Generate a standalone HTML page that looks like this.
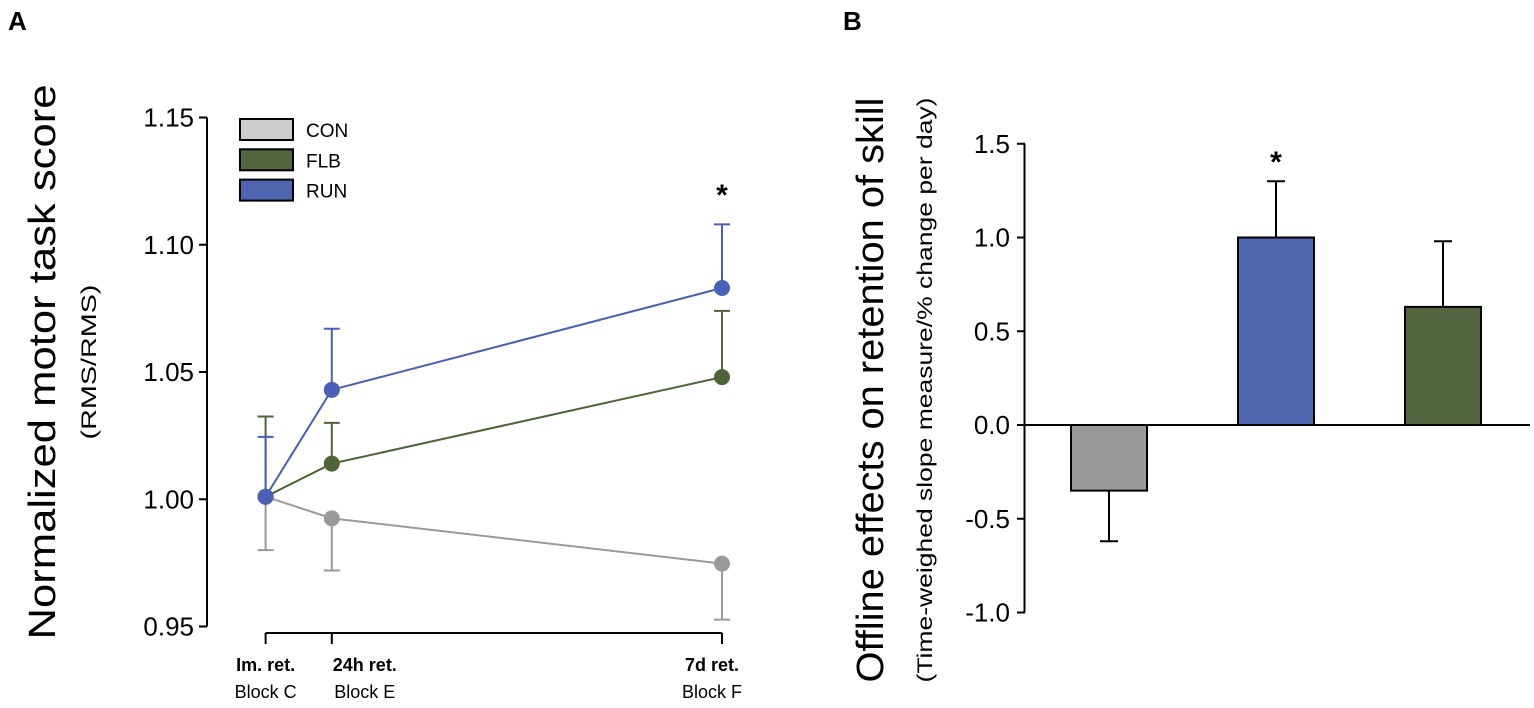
<!DOCTYPE html>
<html><head><meta charset="utf-8"><style>
body{margin:0;background:#fff;}
svg{display:block;font-family:"Liberation Sans",Arial,sans-serif;}
</style></head><body>
<svg id="fig" width="1534" height="708" viewBox="0 0 1534 708">
<text x="8" y="30" font-size="26" font-weight="bold">A</text>
<text x="843" y="30" font-size="26" font-weight="bold">B</text>
<text transform="translate(55,362) rotate(-90)" text-anchor="middle" font-size="38" textLength="555" lengthAdjust="spacingAndGlyphs">Normalized motor task score</text>
<text transform="translate(96,362) rotate(-90)" text-anchor="middle" font-size="21" textLength="155" lengthAdjust="spacingAndGlyphs">(RMS/RMS)</text>
<text transform="translate(883,390) rotate(-90)" text-anchor="middle" font-size="38" textLength="585" lengthAdjust="spacingAndGlyphs">Offline effects on retention of skill</text>
<text transform="translate(932,390) rotate(-90)" text-anchor="middle" font-size="21" textLength="585" lengthAdjust="spacingAndGlyphs">(Time-weighed slope measure/% change per day)</text>
<g id="ga"></g>
<g id="gb"></g>
</svg>
<script>
const aCategories=["Im. ret.","24h ret.","7d ret."];
const aBlocks=["Block C","Block E","Block F"];
const aDays=[0,1,7];
const aTicks=[0.95,1.00,1.05,1.10,1.15];
const aSeriesNames=["CON","FLB","RUN"];
const conValues=[1.001,0.9925,0.9747];
const conErr=[0.021,0.0205,0.022];
const flbValues=[1.001,1.014,1.048];
const flbErr=[0.0315,0.016,0.026];
const runValues=[1.001,1.043,1.083];
const runErr=[0.0235,0.024,0.025];
const bCategories=["CON","RUN","FLB"];
const bValues=[-0.35,1.0,0.63];
const bErr=[0.27,0.30,0.35];
const bTicks=[-1.0,-0.5,0.0,0.5,1.0,1.5];

const NS="http://www.w3.org/2000/svg";
function mk(p,tag,at){const e=document.createElementNS(NS,tag);for(const k in at)e.setAttribute(k,at[k]);p.appendChild(e);return e;}
const ga=document.getElementById('ga'),gb=document.getElementById('gb');
const ay=v=>626.5-(v-0.95)/0.2*509;
const ax=i=>{const d=aDays[i];return d<=1?265.6+d*66.2:331.8+(d-1)/6*390.2;};
const labelShift=[0,33,-10];
let e=mk(ga,'line',{x1:207,y1:ay(0.95),x2:207,y2:ay(1.15),stroke:'#000','stroke-width':2});

aTicks.forEach(t=>{mk(ga,'line',{x1:199,x2:207,y1:ay(t),y2:ay(t),stroke:'#000','stroke-width':2});
 const tx=mk(ga,'text',{x:194,y:ay(t)+9,'text-anchor':'end','font-size':26});tx.textContent=t.toFixed(2);
 });
e=mk(ga,'line',{x1:ax(0),x2:ax(2),y1:633,y2:633,stroke:'#000','stroke-width':2});

aCategories.forEach((c,i)=>{mk(ga,'line',{x1:ax(i),x2:ax(i),y1:633,y2:644,stroke:'#000','stroke-width':2});
 const t1=mk(ga,'text',{x:ax(i)+labelShift[i],y:671,'text-anchor':'middle','font-size':18,'font-weight':'bold'});t1.textContent=c;
 
 const t2=mk(ga,'text',{x:ax(i)+labelShift[i],y:698,'text-anchor':'middle','font-size':18});t2.textContent=aBlocks[i];
 });
const series=[[conValues,conErr,'#9a9a9a',-1,'#cccccc'],[flbValues,flbErr,'#4f6438',1,'#546640'],[runValues,runErr,'#4a5fb5',1,'#5065b0']];
series.forEach((s,k)=>{const [v,er,col,dir]=s;
 const pl=mk(ga,'polyline',{points:v.map((y,i)=>ax(i)+','+ay(y)).join(' '),fill:'none',stroke:col,'stroke-width':2});
 
 v.forEach((y,i)=>{const ye=ay(y+dir*er[i]);
  const eb=mk(ga,'path',{d:`M${ax(i)},${ay(y)}V${ye}M${ax(i)-8},${ye}H${ax(i)+8}`,stroke:col,'stroke-width':2,fill:'none'});
  });});
series.forEach((s,k)=>{s[0].forEach((y,i)=>{const c=mk(ga,'circle',{cx:ax(i),cy:ay(y),r:8,fill:s[2]});
 });});
e=mk(ga,'text',{x:ax(2),y:205,'text-anchor':'middle','font-size':30,'font-weight':'bold'});e.textContent='*';

aSeriesNames.forEach((n,k)=>{const y=119+k*30.3;
 const r=mk(ga,'rect',{x:240,y:y,width:53,height:21,fill:series[k][4],stroke:'#000','stroke-width':2});
 
 const t=mk(ga,'text',{x:306,y:y+18,'font-size':19});t.textContent=n;
 });
// Panel B
const by=v=>425-v*187.5;
const bx=[1071,1238,1405],bw=76;
const bCols=['#999999','#5065b0','#546640'];
e=mk(gb,'line',{x1:1024.5,x2:1024.5,y1:by(-1),y2:by(1.5),stroke:'#000','stroke-width':2});

bTicks.forEach(t=>{mk(gb,'line',{x1:1017,x2:1025,y1:by(t),y2:by(t),stroke:'#000','stroke-width':2});
 const tx=mk(gb,'text',{x:1010,y:by(t)+9,'text-anchor':'end','font-size':26});tx.textContent=t.toFixed(1);
 });
bValues.forEach((v,i)=>{const cx=bx[i]+bw/2,top=v+(v<0?-bErr[i]:bErr[i]);
 const eb=mk(gb,'path',{d:`M${cx},${by(v)}V${by(top)}M${cx-9},${by(top)}H${cx+9}`,stroke:'#000','stroke-width':2,fill:'none'});
 
 const r=mk(gb,'rect',{x:bx[i],y:Math.min(by(v),by(0)),width:bw,height:Math.abs(by(v)-by(0)),fill:bCols[i],stroke:'#000','stroke-width':2});
 });
e=mk(gb,'line',{x1:1024.5,x2:1530,y1:by(0),y2:by(0),stroke:'#000','stroke-width':2});

e=mk(gb,'text',{x:bx[1]+bw/2,y:172,'text-anchor':'middle','font-size':30,'font-weight':'bold'});e.textContent='*';

</script>
</body></html>
